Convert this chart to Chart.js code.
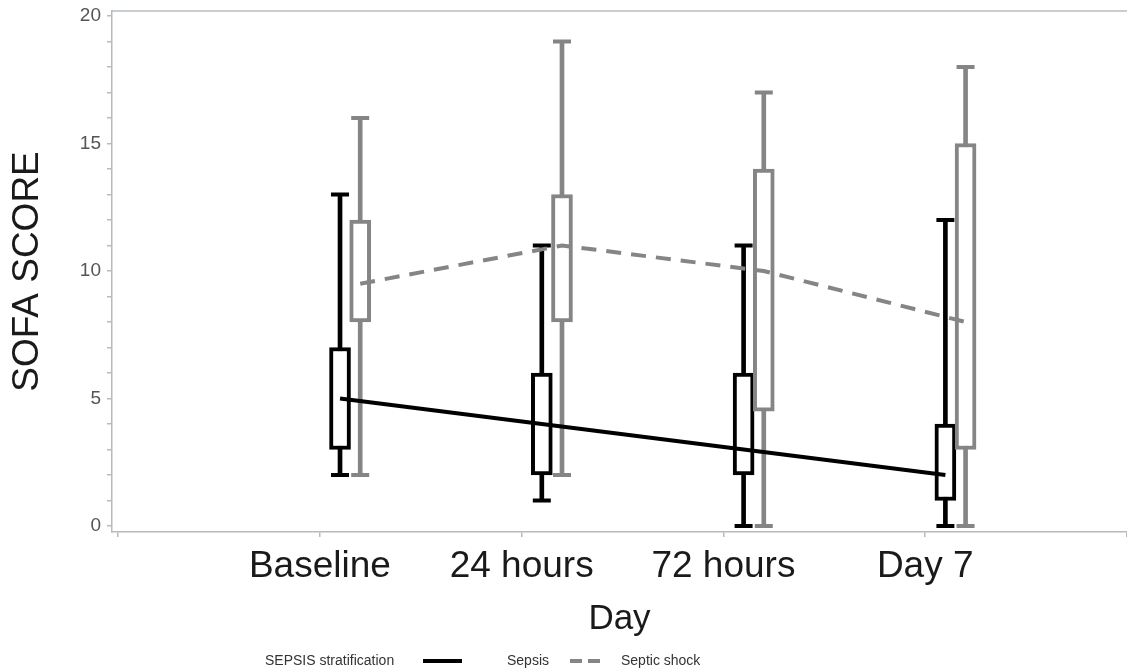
<!DOCTYPE html>
<html>
<head>
<meta charset="utf-8">
<script src="https://cdn.jsdelivr.net/npm/chart.js@4.4.0/dist/chart.umd.min.js"></script>
<style>
  html, body { margin: 0; padding: 0; background: #fff; }
  #wrap { position: relative; width: 1127px; height: 670px; }
  #legend { position: absolute; left: 0; top: 0; width: 1127px; height: 670px; pointer-events: none;
            font-family: 'Liberation Sans', Arial, sans-serif; font-size: 14px; color: #333; }
  #legend span { position: absolute; top: 652px; white-space: nowrap; }
  #legend i { position: absolute; top: 659px; height: 4px; display: block; }
</style>
</head>
<body>
<div id="wrap">
  <canvas id="chart" width="1127" height="670"></canvas>
  <div id="legend">
    <span style="left:265px">SEPSIS stratification</span>
    <i style="left:423px;width:39px;background:#000"></i>
    <span style="left:507px">Sepsis</span>
    <i style="left:570px;width:12px;background:#858585"></i>
    <i style="left:588px;width:12px;background:#858585"></i>
    <span style="left:621px">Septic shock</span>
  </div>
</div>
<script>
// ── Data ─────────────────────────────────────────────────────────────────────

const days = ['Baseline', '24 hours', '72 hours', 'Day 7'];

const sepsisMin    = [2, 1, 0, 0];
const sepsisQ1     = [3, 2, 2, 1];
const sepsisMedian = [5, 4, 3, 2];
const sepsisQ3     = [7, 6, 6, 4];
const sepsisMax    = [13, 11, 11, 12];

const shockMin    = [2, 2, 0, 0];
const shockQ1     = [8, 8, 4.5, 3];
const shockMedian = [9.5, 11, 10, 8];
const shockQ3     = [12, 13, 14, 15];
const shockMax    = [16, 19, 17, 18];

const yTicks = [0, 5, 10, 15, 20];

// ── Style ────────────────────────────────────────────────────────────────────

const BLACK = '#000000';
const GRAY  = '#858585';
const AXIS  = '#b4bcc0';
const FONT  = "'Liberation Sans', Arial, sans-serif";

// cluster offsets (in day units) for the two groups
const OFF_SEPSIS = 0.1;
const OFF_SHOCK  = 0.2;

function xs(off) { return days.map((d, i) => i + 1 + off); }

function boxes(off, lo, hi) {
  return xs(off).map((x, i) => ({ x, y: [lo[i], hi[i]] }));
}
function points(off, vals) {
  return xs(off).map((x, i) => ({ x, y: vals[i] }));
}
function caps(off, lo, hi) {
  return points(off, lo).concat(points(off, hi));
}

function groupSets(label, off, color, mn, q1, med, q3, mx, dash) {
  return [
    { type: 'bar', label: label + ' whisker', data: boxes(off, mn, mx),
      backgroundColor: color, borderWidth: 0, barThickness: 4, grouped: false, order: 4 },
    { type: 'line', label: label + ' cap', data: caps(off, mn, mx), showLine: false,
      pointStyle: 'line', pointRadius: 9, pointHoverRadius: 9,
      pointBorderWidth: 4, pointBorderColor: color, order: 3 },
    { type: 'bar', label: label + ' box', data: boxes(off, q1, q3),
      backgroundColor: '#ffffff', borderColor: color, borderWidth: 4,
      borderSkipped: false, barThickness: 21, grouped: false, order: 2 },
    { type: 'line', label: label, data: points(off, med),
      borderColor: color, borderWidth: 4, borderDash: dash, pointRadius: 0,
      tension: 0, fill: false, order: 1 },
  ];
}

// top frame line
const frame = {
  id: 'frame',
  afterDraw(chart) {
    const { ctx, chartArea } = chart;
    ctx.save();
    ctx.strokeStyle = AXIS;
    ctx.lineWidth = 1.5;
    ctx.beginPath();
    ctx.moveTo(chartArea.left, chartArea.top);
    ctx.lineTo(chartArea.right, chartArea.top);
    ctx.stroke();
    ctx.restore();
  }
};

// ── Chart ────────────────────────────────────────────────────────────────────

new Chart(document.getElementById('chart').getContext('2d'), {
  type: 'bar',
  data: {
    datasets: [
      ...groupSets('Septic shock', OFF_SHOCK, GRAY, shockMin, shockQ1, shockMedian, shockQ3, shockMax, [15, 10]),
      ...groupSets('Sepsis', OFF_SEPSIS, BLACK, sepsisMin, sepsisQ1, sepsisMedian, sepsisQ3, sepsisMax, []),
    ]
  },
  options: {
    responsive: false,
    animation: false,
    layout: { autoPadding: false, padding: { top: 11, bottom: 30, left: 0, right: 0 } },
    plugins: { legend: { display: false }, tooltip: { enabled: false } },
    scales: {
      x: {
        type: 'linear',
        offset: false,
        min: -0.03,
        max: 5.0,
        afterBuildTicks: s => { s.ticks = [0, 1, 2, 3, 4, 5].map(v => ({ value: v })); },
        afterFit: s => { s.height = 108; s.paddingLeft = 0; s.paddingRight = 0; },
        grid: { display: true, drawOnChartArea: false, offset: false, tickLength: 5, color: AXIS, lineWidth: 1.5 },
        border: { color: AXIS, width: 1.5 },
        ticks: {
          autoSkip: false, maxRotation: 0, padding: 8,
          color: '#1a1a1a', font: { family: FONT, size: 37 },
          callback: v => days[v - 1] || '',
        },
        title: { display: true, text: 'Day', color: '#1a1a1a',
                 font: { family: FONT, size: 35 }, padding: { top: 0, bottom: 0 } },
      },
      y: {
        min: -0.235,
        max: 20.196,
        afterBuildTicks: s => {
          const t = [];
          for (let v = 0; v <= 20; v++) t.push({ value: v });
          s.ticks = t;
        },
        afterFit: s => { s.width = 112; s.paddingTop = 0; s.paddingBottom = 0; },
        grid: { display: true, drawOnChartArea: false, tickLength: 5, color: AXIS, lineWidth: 1.5 },
        border: { color: AXIS, width: 1.5 },
        ticks: {
          autoSkip: false, padding: 6,
          color: '#555555', font: { family: FONT, size: 19 },
          callback: v => (yTicks.includes(v) ? v : ''),
        },
        title: { display: true, text: 'SOFA SCORE', color: '#1a1a1a',
                 font: { family: FONT, size: 37 }, padding: { top: 6, bottom: 0 } },
      },
    },
  },
  plugins: [frame],
});
</script>
</body>
</html>
